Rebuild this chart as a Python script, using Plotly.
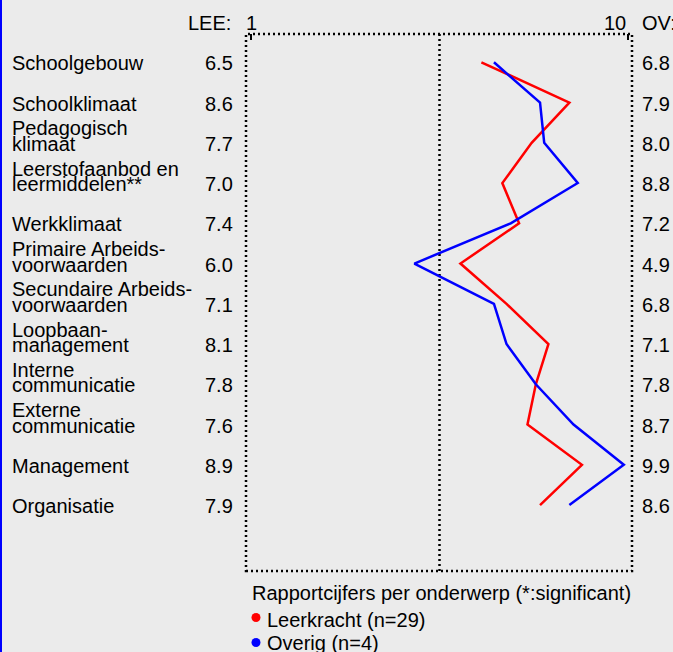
import plotly.graph_objects as go

# ---------------- data ----------------
categories = ["Schoolgebouw", "Schoolklimaat", "Pedagogisch klimaat",
              "Leerstofaanbod en leermiddelen**", "Werkklimaat",
              "Primaire Arbeidsvoorwaarden", "Secundaire Arbeidsvoorwaarden",
              "Loopbaanmanagement", "Interne communicatie", "Externe communicatie",
              "Management", "Organisatie"]
label_lines = [["Schoolgebouw"], ["Schoolklimaat"], ["Pedagogisch", "klimaat"],
               ["Leerstofaanbod en", "leermiddelen**"], ["Werkklimaat"],
               ["Primaire Arbeids-", "voorwaarden"], ["Secundaire Arbeids-", "voorwaarden"],
               ["Loopbaan-", "management"], ["Interne", "communicatie"],
               ["Externe", "communicatie"], ["Management"], ["Organisatie"]]
lee_values = [6.5, 8.6, 7.7, 7.0, 7.4, 6.0, 7.1, 8.1, 7.8, 7.6, 8.9, 7.9]
ov_values = [6.8, 7.9, 8.0, 8.8, 7.2, 4.9, 6.8, 7.1, 7.8, 8.7, 9.9, 8.6]
series_names = ["Leerkracht (n=29)", "Overig (n=4)"]
series_colors = ["#ff0000", "#0000ff"]
scale_ticks = [1, 10]
legend_title = "Rapportcijfers per onderwerp (*:significant)"

# ---------------- layout geometry ----------------
W, H = 673, 652
PL, PR, PT, PB = 246, 632, 34, 571  # plot area in pixels
FONT = "Liberation Sans, Arial, sans-serif"
BG = "#ebebeb"


def px2x(px):
    return (px - PL) / (PR - PL)


def py2y(py):
    return (PB - py) / (PB - PT)


fig = go.Figure()
for name, vals, col in zip(series_names, [lee_values, ov_values], series_colors):
    fig.add_trace(go.Scatter(x=vals, y=categories, mode="lines", name=name,
                             line=dict(color=col, width=2.5), showlegend=False,
                             hoverinfo="skip"))

annotations = []
txt = dict(family=FONT, size=20, color="#000000")
for cat, lines, lv, ov in zip(categories, label_lines, lee_values, ov_values):
    n = len(lines)
    for i, line in enumerate(lines):
        annotations.append(dict(x=px2x(10), y=cat, xref="paper", yref="y", text=line,
                                xanchor="left", yanchor="middle", showarrow=False,
                                yshift=(n - 1 - i) * 15.5 - 1, font=txt))
    annotations.append(dict(x=px2x(235), y=cat, xref="paper", yref="y", text=f"{lv:.1f}",
                            xanchor="right", yanchor="middle", showarrow=False,
                            yshift=-1, font=txt))
    annotations.append(dict(x=px2x(640), y=cat, xref="paper", yref="y", text=f"{ov:.1f}",
                            xanchor="left", yanchor="middle", showarrow=False,
                            yshift=-1, font=txt))

# header
annotations.append(dict(x=px2x(233), y=py2y(23), xref="paper", yref="paper", text="LEE:",
                        xanchor="right", yanchor="middle", showarrow=False, font=txt))
annotations.append(dict(x=scale_ticks[0], y=py2y(23), xref="x", yref="paper",
                        text=str(scale_ticks[0]), xanchor="center", yanchor="middle",
                        showarrow=False, font=txt))
annotations.append(dict(x=scale_ticks[1], y=py2y(23), xref="x", yref="paper",
                        text=str(scale_ticks[1]), xanchor="right", yanchor="middle",
                        showarrow=False, font=txt))
annotations.append(dict(x=px2x(640), y=py2y(23), xref="paper", yref="paper", text="OV:",
                        xanchor="left", yanchor="middle", showarrow=False, font=txt))

# legend text
annotations.append(dict(x=px2x(250), y=py2y(593), xref="paper", yref="paper",
                        text=legend_title, xanchor="left", yanchor="middle",
                        showarrow=False, font=txt))
for i, name in enumerate(series_names):
    annotations.append(dict(x=px2x(265), y=py2y(620 + 23 * i), xref="paper", yref="paper",
                            text=name, xanchor="left", yanchor="middle",
                            showarrow=False, font=txt))

shapes = []
dot = dict(color="#000000", width=2.5, dash="2px,3px")
# dotted frame
shapes.append(dict(type="rect", xref="paper", yref="paper", x0=0, x1=1, y0=0, y1=1,
                   line=dot, layer="above"))
# middle line
mid = (scale_ticks[0] + scale_ticks[1]) / 2
shapes.append(dict(type="line", xref="x", yref="paper", x0=mid, x1=mid, y0=0, y1=1,
                   line=dot, layer="below"))
# left blue border of the page
shapes.append(dict(type="line", xref="paper", yref="paper", x0=px2x(1), x1=px2x(1),
                   y0=py2y(-5), y1=py2y(H + 5), line=dict(color="#0000ff", width=2)))
# legend dots
for i, col in enumerate(series_colors):
    cy = 617.5 + 25 * i
    shapes.append(dict(type="circle", xref="paper", yref="paper",
                       x0=px2x(251.5), x1=px2x(260.5), y0=py2y(cy + 4.5), y1=py2y(cy - 4.5),
                       fillcolor=col, line=dict(color=col, width=0)))

# x axis range: value 1 at px 251, 10 at px 628
slope = (628 - 251) / 9.0
x_lo = 1 - (251 - PL) / slope
x_hi = 10 + (PR - 628) / slope
# y rows: first row at px 62.3, spacing 40.25
row0, rowstep = 62.3, 40.25
y_top = -(row0 - PT) / rowstep
y_bot = (PB - row0) / rowstep

fig.update_layout(
    width=W, height=H,
    margin=dict(l=PL, r=W - PR, t=PT, b=H - PB, pad=0),
    paper_bgcolor=BG, plot_bgcolor=BG,
    xaxis=dict(range=[x_lo, x_hi], side="top", showgrid=False, zeroline=False,
               showline=False, ticks="inside", tickvals=scale_ticks, ticklen=6,
               tickwidth=2, tickcolor="#000000", showticklabels=False, fixedrange=True),
    yaxis=dict(type="category", categoryorder="array", categoryarray=categories,
               range=[y_bot, y_top], showgrid=False, zeroline=False, showline=False,
               showticklabels=False, ticks="", fixedrange=True),
    annotations=annotations, shapes=shapes, showlegend=False,
    font=dict(family=FONT, size=20, color="#000000"),
)

fig.write_html(
    "out.html",
    config={"displayModeBar": False},
    post_script="document.body.style.margin='0';document.body.style.padding='0';"
                "document.body.style.overflow='hidden';"
                "document.documentElement.style.overflow='hidden';",
)
